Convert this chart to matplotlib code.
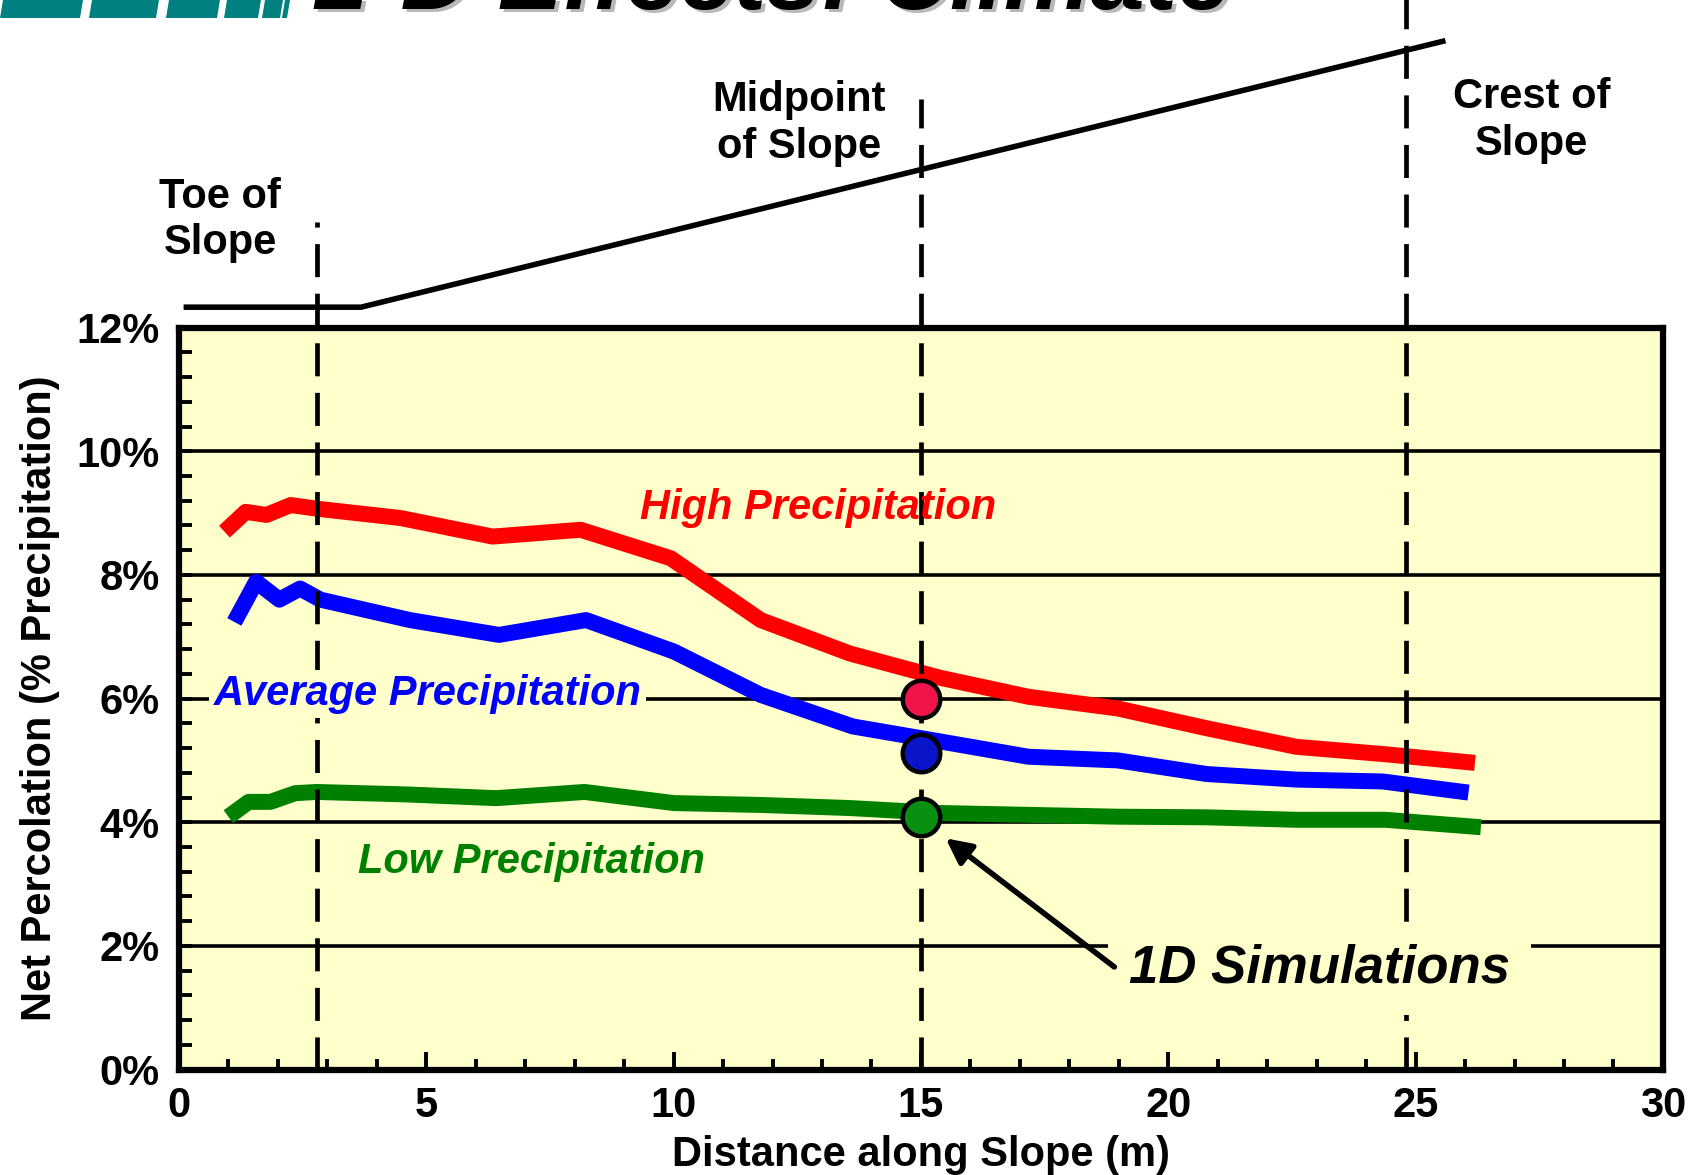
import matplotlib.pyplot as plt
import matplotlib.transforms as mtransforms
from matplotlib.patches import Polygon
import numpy as np

plt.rcParams['font.family'] = ['Liberation Sans', 'DejaVu Sans']
plt.rcParams['font.weight'] = 'bold'

# dados
x_high = [0.92, 1.35, 1.77, 2.26, 2.8, 4.48, 6.34, 8.12, 9.94, 11.76, 13.56, 15.37, 17.17, 18.98, 20.78, 22.59, 24.39, 26.2]
high = [8.70, 9.02, 8.97, 9.13, 9.07, 8.92, 8.62, 8.73, 8.27, 7.27, 6.73, 6.34, 6.03, 5.84, 5.52, 5.22, 5.10, 4.96]

x_avg = [1.12, 1.56, 2.03, 2.45, 2.86, 4.67, 6.47, 8.23, 10.01, 11.76, 13.62, 15.37, 17.17, 18.98, 20.78, 22.59, 24.33, 26.07]
avg = [7.24, 7.89, 7.60, 7.78, 7.60, 7.27, 7.03, 7.27, 6.76, 6.06, 5.55, 5.31, 5.06, 5.00, 4.78, 4.69, 4.66, 4.48]

x_low = [1.0, 1.41, 1.85, 2.35, 2.78, 4.6, 6.41, 8.2, 10.01, 11.76, 13.56, 15.37, 17.17, 18.98, 20.78, 22.59, 24.39, 26.32]
low = [4.09, 4.33, 4.33, 4.47, 4.49, 4.45, 4.39, 4.49, 4.31, 4.28, 4.23, 4.15, 4.12, 4.09, 4.08, 4.04, 4.04, 3.92]

# simulacoes 1D
sim_x = 15
sim_y = [6.0, 5.12, 4.08]
sim_cores = ['#f0144b', '#0a14c8', '#0a9010']

# perfil da encosta (acima do grafico)
slope_x = [0.15, 3.68, 25.55]
slope_y = [12.33, 12.33, 16.63]

# posicoes marcadas
pos_x = [2.8, 15.0, 24.8]
pos_top = [13.7, 15.7, 17.6]
pos_nomes = ['Toe of\nSlope', 'Midpoint\nof Slope', 'Crest of\nSlope']
nomes_x = [0.83, 12.54, 27.35]
nomes_y = [13.74, 15.3, 15.35]

yticks = [0, 2, 4, 6, 8, 10, 12]
ytick_labels = ['0%', '2%', '4%', '6%', '8%', '10%', '12%']
xticks = [0, 5, 10, 15, 20, 25, 30]

FS = 30

fig = plt.figure(figsize=(17.01, 11.75), dpi=100)
ax = fig.add_axes([0.1052, 0.0897, 0.8724, 0.6315])
ax.set_facecolor('#ffffcc')
ax.set_xlim(0, 30)
ax.set_ylim(0, 12)

for s in ax.spines.values():
    s.set_linewidth(4.5)

# linhas de grade horizontais
for g in [2, 4, 6, 8, 10]:
    ax.axhline(g, color='black', lw=2.6, zorder=1)

ax.plot(x_high, high, color='#ff0000', lw=11.5, solid_capstyle='butt', solid_joinstyle='round', zorder=3)
ax.plot(x_avg, avg, color='#0000ff', lw=11.5, solid_capstyle='butt', solid_joinstyle='round', zorder=3)
ax.plot(x_low, low, color='#008000', lw=11.5, solid_capstyle='butt', solid_joinstyle='round', zorder=3)

for xp, top in zip(pos_x, pos_top):
    ax.plot([xp, xp], [0, top], color='black', lw=3.4, dashes=(7, 3.5), clip_on=False, zorder=4)

for yv, c in zip(sim_y, sim_cores):
    ax.plot(sim_x, yv, 'o', ms=27, mfc=c, mec='black', mew=3.2, zorder=6)

ax.plot(slope_x, slope_y, color='black', lw=4, clip_on=False, zorder=4)

for nome, xn, yn in zip(pos_nomes, nomes_x, nomes_y):
    ax.text(xn, yn, nome, ha='center', va='center', fontsize=FS, fontweight='bold', linespacing=1.2)

ax.text(9.32, 9.09, 'High Precipitation', color='#ff0000', fontsize=FS, fontstyle='italic',
        fontweight='bold', ha='left', va='center', zorder=7)
ax.text(0.70, 6.07, 'Average Precipitation', color='#0000ff', fontsize=FS, fontstyle='italic',
        fontweight='bold', ha='left', va='center', zorder=7,
        bbox=dict(facecolor='#ffffcc', edgecolor='none', pad=3))
ax.text(3.62, 3.35, 'Low Precipitation', color='#008000', fontsize=FS, fontstyle='italic',
        fontweight='bold', ha='left', va='center', zorder=7)
ax.text(19.2, 1.63, '1D Simulations', color='black', fontsize=38, fontstyle='italic',
        fontweight='bold', ha='left', va='center', zorder=7,
        bbox=dict(facecolor='#ffffcc', edgecolor='none', boxstyle='square,pad=0.4'))

ax.annotate('', xy=(15.5, 3.74), xytext=(18.91, 1.66),
            arrowprops=dict(arrowstyle='-|>', lw=4, color='black', mutation_scale=38,
                            shrinkA=0, shrinkB=0), zorder=8)

ax.set_yticks(yticks)
ax.set_yticklabels(ytick_labels)
ax.set_yticks(np.arange(0, 12.01, 0.4), minor=True)
ax.set_xticks(xticks)
ax.set_xticks(range(0, 31), minor=True)
ax.tick_params(axis='y', which='both', direction='in', length=9, width=2.8, labelsize=FS, pad=14)
ax.tick_params(axis='x', which='major', direction='in', length=13, width=2.8, labelsize=FS, pad=12)
ax.tick_params(axis='x', which='minor', direction='in', length=8, width=2.8)
for lab in ax.get_xticklabels() + ax.get_yticklabels():
    lab.set_fontweight('bold')

ax.set_xlabel('Distance along Slope (m)', fontsize=FS, fontweight='bold', labelpad=6)
ax.set_ylabel('Net Percolation (% Precipitation)', fontsize=FS, fontweight='bold', labelpad=12)

# titulo cortado no topo, com sombra
ty = 1 - 9 / 1175
sombra = mtransforms.offset_copy(fig.transFigure, fig=fig, x=4, y=-3, units='dots')
fig.text(315 / 1701, ty, '2-D Effects: Climate', fontsize=70, fontstyle='italic', fontweight='bold',
         color='#b8b8b8', va='baseline', ha='left', transform=sombra)
fig.text(315 / 1701, ty, '2-D Effects: Climate', fontsize=70, fontstyle='italic', fontweight='bold',
         color='black', va='baseline', ha='left')

# barras verde-azuladas do cabecalho
barras = [(0, 80), (89, 156), (166, 217), (224, 258), (262, 280), (282, 287)]
for b0, b1 in barras:
    pts = [(b0, 18), (b1, 18), (b1 + 3, 0), (b0 + 3, 0)]
    pts = [(px / 1701, 1 - py / 1175) for px, py in pts]
    fig.add_artist(Polygon(pts, closed=True, facecolor='#008080', edgecolor='none',
                           transform=fig.transFigure))

fig.savefig('out.png', dpi=100)
